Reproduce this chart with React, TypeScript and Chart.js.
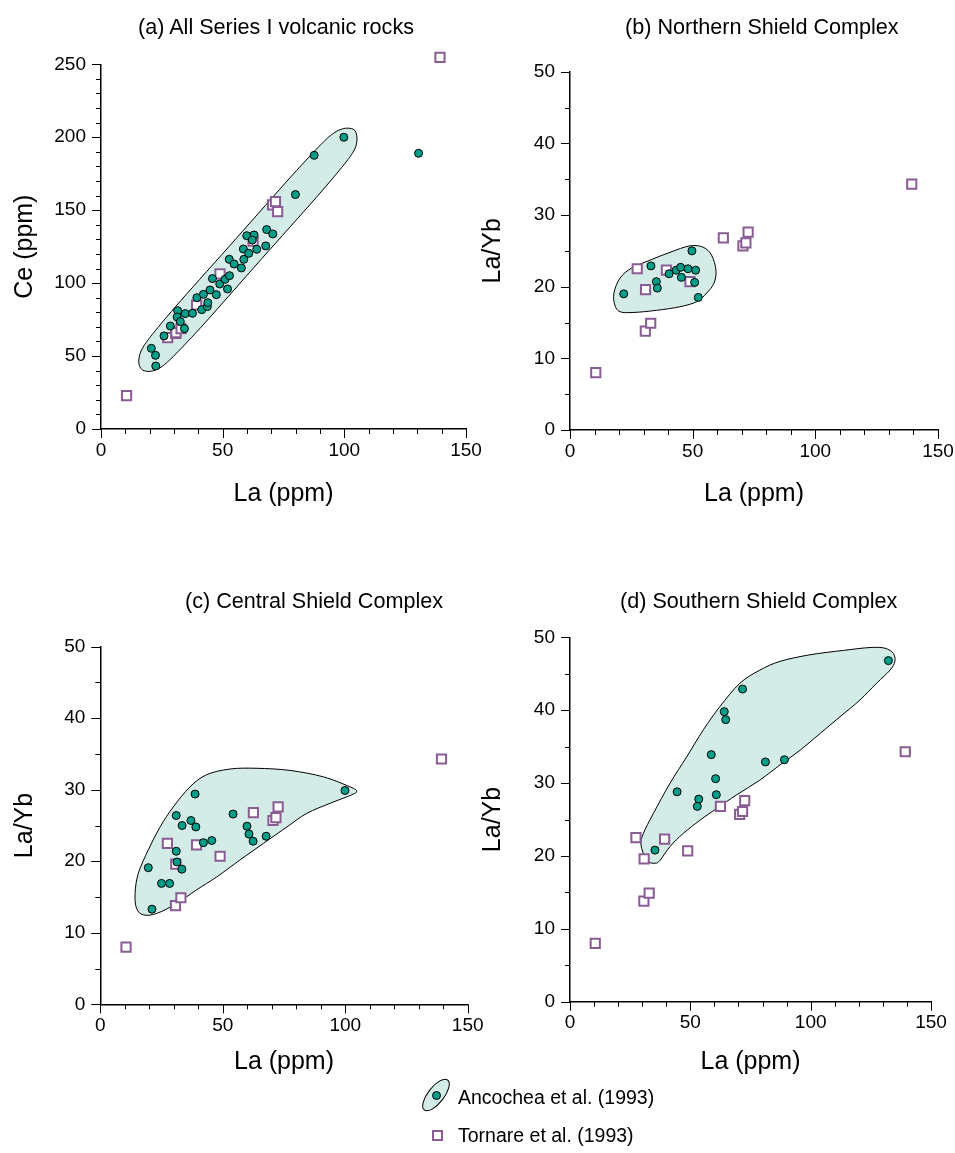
import React, { useEffect, useRef } from "react";
import { Chart, registerables } from "chart.js";

Chart.register(...registerables);

const FONT = "'Liberation Sans', Arial, Helvetica, sans-serif";
const TEAL = "#009e89";
const PURPLE = "#8a5c94";
const HULL_FILL = "#d3ece7";

// ---- Tornare et al. (1993) (same samples in every panel) ----
const TORNARE_LA = [10.5, 27.4, 30.7, 30.8, 32.9, 39.3, 48.9, 62.5, 70.5, 71.7, 72.6, 139.3];
const TORNARE_LAYB = [8.0, 22.5, 13.8, 19.6, 14.9, 22.3, 20.7, 26.8, 25.7, 26.1, 27.6, 34.3];
const TORNARE_CE = [22.9, 62.6, 65.5, 66.0, 68.8, 85.0, 106.3, 128.7, 153.6, 155.8, 149.0, 254.8];

// ---- (a) All Series I volcanic rocks: Ancochea et al. (1993) ----
const A_LA = [20.7, 22.4, 22.5, 25.9, 28.5, 31.5, 31.3, 32.6, 34.3, 34.6, 37.6, 39.4, 41.4, 42.1, 43.7, 43.9, 44.8, 47.4, 45.8, 48.8, 51.0, 52.8, 52.0, 52.7, 54.7, 57.7, 58.7, 58.5, 60.7, 59.9, 62.9, 62.2, 64.0, 67.7, 68.1, 70.6, 79.9, 87.6, 99.8, 130.5];
const A_CE = [55.3, 50.5, 43.2, 63.8, 70.6, 81.1, 76.8, 73.6, 68.8, 79.1, 79.3, 90.0, 81.8, 92.3, 83.9, 86.6, 95.3, 92.1, 103.1, 99.4, 102.6, 105.1, 96.0, 116.3, 113.1, 110.4, 116.3, 123.4, 120.4, 132.5, 133.0, 129.5, 123.2, 125.5, 136.7, 133.7, 160.7, 187.6, 200.0, 189.0];

// ---- (b) Northern Shield Complex ----
const B_LA = [21.9, 33.0, 35.2, 35.6, 40.4, 43.3, 45.1, 45.4, 48.1, 51.2, 49.7, 50.8, 52.3];
const B_LAYB = [19.0, 22.9, 20.7, 19.8, 21.8, 22.3, 22.7, 21.3, 22.5, 22.3, 25.0, 20.6, 18.5];

// ---- (c) Central Shield Complex ----
const C_LA = [21.1, 19.6, 25.0, 28.3, 31.0, 33.3, 31.3, 31.0, 33.4, 37.0, 39.0, 38.7, 42.1, 45.5, 54.2, 59.9, 60.7, 62.4, 67.7, 99.9];
const C_LAYB = [13.3, 19.1, 16.9, 16.9, 21.4, 18.9, 19.9, 26.4, 25.0, 25.7, 24.8, 29.4, 22.6, 22.9, 26.6, 24.9, 23.8, 22.8, 23.5, 29.9];

// ---- (d) Southern Shield Complex ----
const D_LA = [35.3, 44.5, 53.5, 52.9, 60.8, 60.5, 58.7, 81.2, 89.1, 64.7, 64.1, 71.7, 132.3];
const D_LAYB = [20.8, 28.8, 27.8, 26.8, 28.4, 30.6, 33.9, 32.9, 33.2, 38.7, 39.8, 42.9, 46.8];

// ---- field outlines of the Ancochea et al. data (La, y) ----
const HULL_A = [[104.1, 205.0], [105.1, 201.1], [105.1, 196.5], [103.9, 190.7], [99.9, 181.3], [88.4, 158.6], [65.6, 115.9], [42.9, 73.1], [30.7, 51.4], [25.2, 43.0], [21.8, 40.1], [19.1, 39.5], [16.7, 40.9], [15.6, 44.7], [15.7, 49.2], [17.0, 55.2], [21.3, 65.3], [32.8, 88.0], [55.6, 130.7], [78.3, 173.4], [90.5, 195.2], [95.7, 202.9], [99.0, 205.6], [101.7, 206.2]];
const HULL_B = [[17.9, 19.1], [20.4, 21.2], [25.1, 22.6], [32.6, 23.7], [40.8, 24.8], [48.9, 25.7], [54.3, 25.5], [57.7, 24.4], [59.5, 22.3], [58.7, 20.5], [55.7, 19.1], [51.6, 17.9], [44.8, 17.2], [35.3, 16.7], [25.8, 16.4], [20.4, 16.5], [18.3, 17.4]];
const HULL_C = [[14.2, 15.5], [15.5, 18.3], [19.6, 21.6], [24.4, 24.8], [29.8, 27.6], [36.6, 30.4], [43.4, 32.1], [53.0, 32.9], [63.9, 33.0], [77.5, 32.7], [91.1, 31.8], [102.0, 30.4], [104.7, 29.8], [102.7, 29.3], [93.8, 28.1], [84.3, 26.7], [76.2, 24.8], [66.6, 22.5], [57.1, 20.2], [47.5, 17.8], [39.3, 16.0], [31.2, 14.1], [23.0, 12.7], [17.6, 12.5], [14.8, 13.4]];
const HULL_D = [[29.5, 21.5], [30.5, 23.1], [34.6, 25.8], [41.6, 30.0], [48.5, 33.6], [55.4, 37.3], [62.3, 40.5], [70.6, 43.7], [78.9, 45.5], [87.3, 46.7], [99.7, 47.6], [113.6, 48.2], [124.7, 48.6], [130.9, 48.5], [134.3, 47.8], [135.0, 46.7], [133.0, 45.5], [127.4, 43.7], [120.5, 41.4], [112.2, 39.1], [103.9, 36.8], [95.6, 34.5], [87.3, 32.5], [78.9, 30.4], [69.3, 28.4], [60.9, 26.5], [54.0, 24.9], [47.1, 23.1], [41.6, 21.3], [37.4, 19.4], [35.3, 19.0], [31.9, 19.4]];

// ---- axis ticks ----
const X_RANGE = [0, 150];
const X_LABEL_STEP = 50;
const X_MINOR_STEP = 10;
const CE_RANGE = [0, 250];
const CE_LABEL_STEP = 50;
const CE_MINOR_STEP = 10;
const LAYB_RANGE = [0, 50];
const LAYB_LABEL_STEP = 10;
const LAYB_MINOR_STEP = 5;

const zip = (xs: number[], ys: number[]) => xs.map((x, i) => ({ x, y: ys[i] }));

const hullPlugin = {
  id: "hull",
  beforeDatasetsDraw(chart: any, _args: any, opts: any) {
    const raw: number[][] = opts.points || [];
    const xs = chart.scales.x;
    const ys = chart.scales.y;
    const pts = raw.map(([x, y]) => [xs.getPixelForValue(x), ys.getPixelForValue(y)]);
    const n = pts.length;
    if (n < 3) return;
    const ctx = chart.ctx;
    ctx.save();
    ctx.beginPath();
    ctx.moveTo(pts[0][0], pts[0][1]);
    for (let i = 0; i < n; i++) {
      const p0 = pts[(i - 1 + n) % n];
      const p1 = pts[i];
      const p2 = pts[(i + 1) % n];
      const p3 = pts[(i + 2) % n];
      ctx.bezierCurveTo(
        p1[0] + (p2[0] - p0[0]) / 6,
        p1[1] + (p2[1] - p0[1]) / 6,
        p2[0] - (p3[0] - p1[0]) / 6,
        p2[1] - (p3[1] - p1[1]) / 6,
        p2[0],
        p2[1]
      );
    }
    ctx.closePath();
    ctx.fillStyle = HULL_FILL;
    ctx.fill();
    ctx.lineWidth = 1;
    ctx.strokeStyle = "#000";
    ctx.stroke();
    ctx.restore();
  },
};

const tickPlugin = {
  id: "axticks",
  afterDraw(chart: any, _args: any, opts: any) {
    const ctx = chart.ctx;
    const xs = chart.scales.x;
    const ys = chart.scales.y;
    const area = chart.chartArea;
    ctx.save();
    ctx.strokeStyle = "#000";
    ctx.lineWidth = 1;
    ctx.beginPath();
    const isMajor = (v: number, step: number) => Math.abs(v / step - Math.round(v / step)) < 1e-6;
    for (let v = xs.min; v <= xs.max + 1e-6; v += opts.xMinor) {
      const px = Math.round(xs.getPixelForValue(v)) + 0.5;
      const len = isMajor(v, opts.xMajor) ? 9 : 5;
      ctx.moveTo(px, area.bottom);
      ctx.lineTo(px, area.bottom + len);
    }
    for (let v = ys.min; v <= ys.max + 1e-6; v += opts.yMinor) {
      const py = Math.round(ys.getPixelForValue(v)) + 0.5;
      const len = isMajor(v, opts.yMajor) ? 9 : 5;
      ctx.moveTo(area.left, py);
      ctx.lineTo(area.left - len, py);
    }
    ctx.stroke();
    ctx.restore();
  },
};

type PanelCfg = {
  left: number;
  top: number;
  w: number;
  h: number;
  area: { l: number; r: number; t: number; b: number };
  yRange: number[];
  yLabelStep: number;
  yMinorStep: number;
  yTitle: string;
  xTitlePad: number;
  yTitlePad: number;
  circles: { x: number; y: number }[];
  squares: { x: number; y: number }[];
  hull: number[][];
};

function Panel({ cfg }: { cfg: PanelCfg }) {
  const ref = useRef<HTMLCanvasElement | null>(null);
  useEffect(() => {
    if (!ref.current) return;
    const tickFont = { size: 19, family: FONT };
    const titleFont = { size: 25, family: FONT };
    const chart = new Chart(ref.current, {
      type: "scatter",
      data: {
        datasets: [
          {
            data: cfg.circles,
            pointStyle: "circle",
            pointRadius: 4,
            backgroundColor: TEAL,
            borderColor: "#000",
            borderWidth: 1,
            clip: false,
          } as any,
          {
            data: cfg.squares,
            pointStyle: "rect",
            pointRadius: 6.5,
            backgroundColor: "#fff",
            borderColor: PURPLE,
            borderWidth: 2,
            clip: false,
          } as any,
        ],
      },
      options: {
        animation: false,
        responsive: false,
        devicePixelRatio: 1,
        events: [],
        layout: {
          padding: { left: 0, top: cfg.area.t, right: cfg.w - cfg.area.r, bottom: 0 },
        },
        plugins: {
          legend: { display: false },
          tooltip: { enabled: false },
          title: { display: false },
          hull: { points: cfg.hull },
          axticks: { xMinor: X_MINOR_STEP, xMajor: X_LABEL_STEP, yMinor: cfg.yMinorStep, yMajor: cfg.yLabelStep },
        } as any,
        scales: {
          x: {
            type: "linear",
            position: "bottom",
            min: X_RANGE[0],
            max: X_RANGE[1],
            afterFit: (s: any) => {
              s.height = cfg.h - cfg.area.b;
            },
            grid: { display: false, drawTicks: false },
            border: { display: true, color: "#000", width: 1.5 },
            ticks: { stepSize: X_LABEL_STEP, padding: 10, color: "#000", font: tickFont, autoSkip: false, maxRotation: 0 },
            title: { display: true, text: "La (ppm)", color: "#000", font: titleFont, padding: { top: 0, bottom: cfg.xTitlePad } },
          },
          y: {
            type: "linear",
            position: "left",
            min: cfg.yRange[0],
            max: cfg.yRange[1],
            afterFit: (s: any) => {
              s.width = cfg.area.l;
            },
            grid: { display: false, drawTicks: false },
            border: { display: true, color: "#000", width: 1.5 },
            ticks: { stepSize: cfg.yLabelStep, padding: 15, color: "#000", font: tickFont, autoSkip: false },
            title: { display: true, text: cfg.yTitle, color: "#000", font: titleFont, padding: { top: cfg.yTitlePad, bottom: 0 } },
          },
        } as any,
      },
      plugins: [hullPlugin, tickPlugin] as any,
    });
    return () => chart.destroy();
  }, [cfg]);
  return (
    <canvas
      ref={ref}
      width={cfg.w}
      height={cfg.h}
      style={{ position: "absolute", left: cfg.left, top: cfg.top, width: cfg.w, height: cfg.h }}
    />
  );
}

const PANELS: PanelCfg[] = [
  {
    left: 0, top: 0, w: 498, h: 520,
    area: { l: 101, r: 466, t: 64.3, b: 429 },
    yRange: CE_RANGE, yLabelStep: CE_LABEL_STEP, yMinorStep: CE_MINOR_STEP,
    yTitle: "Ce (ppm)", xTitlePad: 11, yTitlePad: 10,
    circles: zip(A_LA, A_CE), squares: zip(TORNARE_LA, TORNARE_CE), hull: HULL_A,
  },
  {
    left: 470, top: 0, w: 500, h: 520,
    area: { l: 100, r: 468, t: 71.7, b: 430 },
    yRange: LAYB_RANGE, yLabelStep: LAYB_LABEL_STEP, yMinorStep: LAYB_MINOR_STEP,
    yTitle: "La/Yb", xTitlePad: 11, yTitlePad: 8,
    circles: zip(B_LA, B_LAYB), squares: zip(TORNARE_LA, TORNARE_LAYB), hull: HULL_B,
  },
  {
    left: 0, top: 530, w: 500, h: 560,
    area: { l: 100.3, r: 467.7, t: 116.7, b: 474.3 },
    yRange: LAYB_RANGE, yLabelStep: LAYB_LABEL_STEP, yMinorStep: LAYB_MINOR_STEP,
    yTitle: "La/Yb", xTitlePad: 13, yTitlePad: 10,
    circles: zip(C_LA, C_LAYB), squares: zip(TORNARE_LA, TORNARE_LAYB), hull: HULL_C,
  },
  {
    left: 470, top: 530, w: 495, h: 560,
    area: { l: 100, r: 461, t: 107.3, b: 471.7 },
    yRange: LAYB_RANGE, yLabelStep: LAYB_LABEL_STEP, yMinorStep: LAYB_MINOR_STEP,
    yTitle: "La/Yb", xTitlePad: 13, yTitlePad: 8,
    circles: zip(D_LA, D_LAYB), squares: zip(TORNARE_LA, TORNARE_LAYB), hull: HULL_D,
  },
];

const TITLES = [
  { text: "(a) All Series I volcanic rocks", left: 138, cy: 27 },
  { text: "(b) Northern Shield Complex", left: 625, cy: 27 },
  { text: "(c) Central Shield Complex", left: 185, cy: 601 },
  { text: "(d) Southern Shield Complex", left: 620, cy: 601 },
];

const LEGEND_LABELS = ["Ancochea et al. (1993)", "Tornare et al. (1993)"];

export default function App() {
  const textStyle: React.CSSProperties = {
    position: "absolute",
    fontFamily: FONT,
    color: "#000",
    whiteSpace: "nowrap",
  };
  return (
    <div style={{ position: "absolute", left: 0, top: 0, width: 955, height: 1153, background: "#fff", overflow: "hidden" }}>
      {PANELS.map((p, i) => (
        <Panel key={i} cfg={p} />
      ))}
      {TITLES.map((t, i) => (
        <div key={i} style={{ ...textStyle, left: t.left, top: t.cy - 13, height: 26, lineHeight: "26px", fontSize: 21.6 }}>
          {t.text}
        </div>
      ))}
      <svg style={{ position: "absolute", left: 414, top: 1073 }} width={44} height={44}>
        <ellipse cx={22} cy={22} rx={19} ry={8} transform="rotate(-52 22 22)" fill={HULL_FILL} stroke="#000" strokeWidth={1} />
        <circle cx={22.5} cy={22.5} r={4} fill={TEAL} stroke="#000" strokeWidth={1} />
      </svg>
      <div style={{ ...textStyle, left: 458, top: 1084, height: 26, lineHeight: "26px", fontSize: 19.5 }}>{LEGEND_LABELS[0]}</div>
      <div
        style={{
          position: "absolute",
          left: 432,
          top: 1130,
          width: 7,
          height: 7,
          border: `2px solid ${PURPLE}`,
          background: "#fff",
        }}
      />
      <div style={{ ...textStyle, left: 458, top: 1122, height: 26, lineHeight: "26px", fontSize: 19.5 }}>{LEGEND_LABELS[1]}</div>
    </div>
  );
}
